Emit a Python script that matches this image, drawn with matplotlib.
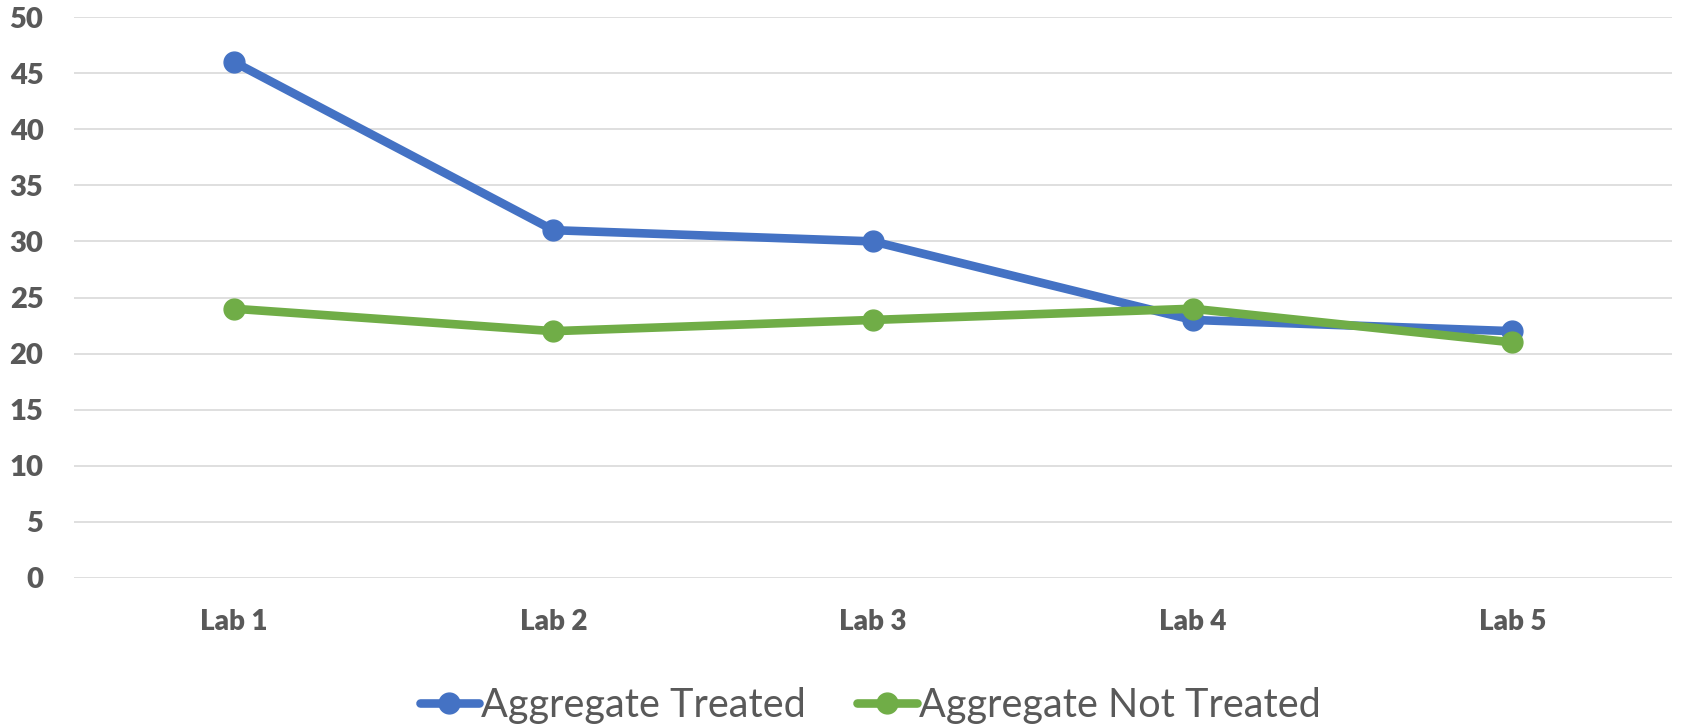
import matplotlib
matplotlib.use('Agg')
import matplotlib.pyplot as plt

# Series values per lab
labs = ['Lab 1', 'Lab 2', 'Lab 3', 'Lab 4', 'Lab 5']
treated = [46, 31, 30, 23, 22]
not_treated = [24, 22, 23, 24, 21]
y_ticks = [0, 5, 10, 15, 20, 25, 30, 35, 40, 45, 50]

blue = '#4472C4'
green = '#70AD47'
grey_text = '#595959'
grid_col = '#D9D9D9'

plt.rcParams['font.family'] = ['Lato', 'DejaVu Sans']

fig = plt.figure(figsize=(16.82, 7.26), dpi=100)
ax = fig.add_axes([74 / 1682, 1 - 578 / 726, (1672 - 74) / 1682, (578 - 17) / 726])

x = list(range(len(labs)))
ax.plot(x, treated, color=blue, linewidth=6.2, marker='o', markersize=15,
        label='Aggregate Treated', solid_capstyle='round', zorder=3)
ax.plot(x, not_treated, color=green, linewidth=6.2, marker='o', markersize=15,
        label='Aggregate Not Treated', solid_capstyle='round', zorder=4)

ax.set_xlim(-0.5, len(labs) - 0.5)
ax.set_ylim(0, 50)
ax.set_yticks(y_ticks)
ax.set_xticks(x)
ax.set_xticklabels(labs)

# Excel-like styling: light horizontal grid, no spines, no tick marks
for s in ax.spines.values():
    s.set_visible(False)
ax.yaxis.grid(True, color=grid_col, linewidth=1.2)
ax.set_axisbelow(True)
ax.tick_params(axis='both', length=0, colors=grey_text)
ax.tick_params(axis='y', pad=22, labelsize=21)
ax.tick_params(axis='x', pad=22, labelsize=20)
for lab in ax.get_xticklabels() + ax.get_yticklabels():
    lab.set_fontweight('heavy')

leg = fig.legend(loc='center', bbox_to_anchor=(870 / 1682, 1 - 705 / 726), ncol=2,
                 frameon=False, fontsize=28.5, handlelength=1.5, handletextpad=0.05,
                 columnspacing=1.3)
for t in leg.get_texts():
    t.set_color(grey_text)

fig.savefig('out.png', dpi=100)
